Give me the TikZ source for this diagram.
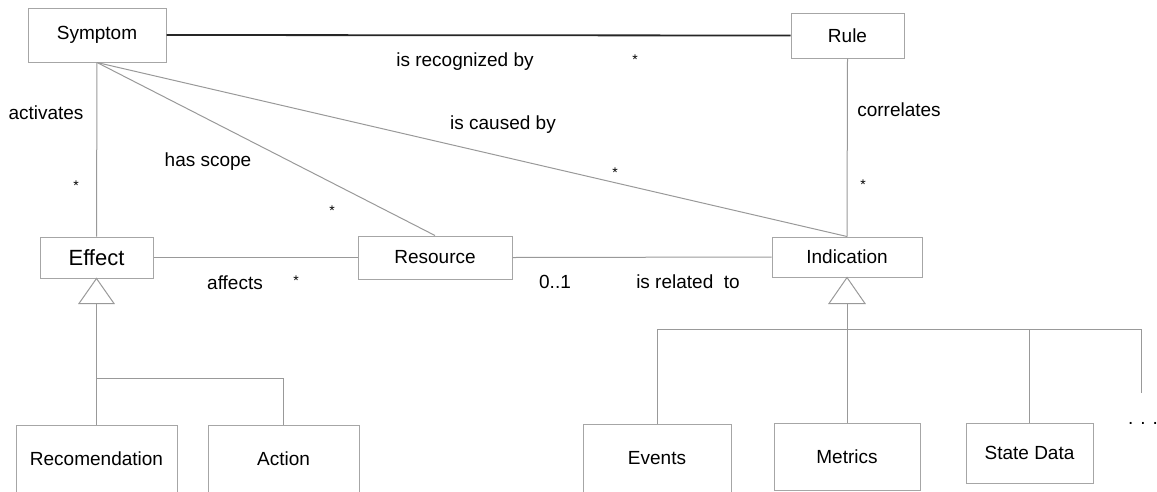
\documentclass[tikz,border=0pt]{standalone}
\usepackage{fontspec}
\setmainfont{Liberation Sans}
\usetikzlibrary{calc}

\begin{document}
\begin{tikzpicture}[x=1pt, y=-1pt,
  box/.style={draw=black!35, line width=1pt, inner sep=0pt, font=\fontsize{19}{23}\selectfont},
  link/.style={draw=black!40, line width=1pt},
  lbl/.style={inner sep=0pt, font=\fontsize{19}{23}\selectfont},
  mult/.style={inner sep=0pt, font=\fontsize{14}{16}\selectfont}]
  \useasboundingbox (0,0) rectangle (1157,491);
  \clip (0,0) rectangle (1157,491);

  % Draw the classes
  \node[box, minimum width=138pt, minimum height=54pt] (symptom) at (97,35) {Symptom};
  \node[box, minimum width=113pt, minimum height=45pt] (rule) at (847.5,35.5) {Rule};
  \node[box, minimum width=113pt, minimum height=41pt, font=\fontsize{22}{26}\selectfont] (effect) at (96.5,257.5) {Effect};
  \node[box, minimum width=154pt, minimum height=43pt] (resource) at (435,257.5) {Resource};
  \node[box, minimum width=150pt, minimum height=40pt] (indication) at (847,257) {Indication};

  % Draw the subclasses
  \node[box, minimum width=161pt, minimum height=68pt] (recom) at (96.5,459) {Recomendation};
  \node[box, minimum width=151pt, minimum height=68pt] (action) at (283.5,459) {Action};
  \node[box, minimum width=148pt, minimum height=68pt] (events) at (657,458) {Events};
  \node[box, minimum width=146pt, minimum height=67pt] (metrics) at (847,456.5) {Metrics};
  \node[box, minimum width=127pt, minimum height=60pt] (statedata) at (1029.5,453) {State Data};
  \node[lbl, anchor=base] (dots) at (1143,424) {. . .};

  % Draw the associations
  \draw[black!85, line width=1.8pt] (symptom.east) -- (rule.west);
  \draw[link] (symptom.south) -- (effect.north);
  \draw[link] (symptom.south) -- (resource.north);
  \draw[link] (symptom.south) -- (indication.north);
  \draw[link] (rule.south) -- (indication.north);
  \draw[link] (effect.east) -- (resource.west);
  \draw[link] (resource.east) -- (indication.west);

  % Draw the generalization of Effect
  \draw[link] (effect.south) -- ++(-17.5,25) -- ++(35,0) -- cycle;
  \coordinate (effbase) at ($(effect.south)+(0,25)$);
  \draw[link] (effbase) -- (recom.north);
  \coordinate (effjoin) at (96.5,378);
  \draw[link] (effjoin) -| (action.north);

  % Draw the generalization of Indication
  \draw[link] (indication.south) -- ++(-18,26) -- ++(36,0) -- cycle;
  \coordinate (indbase) at ($(indication.south)+(0,26)$);
  \draw[link] (indbase) -- (metrics.north);
  \coordinate (indjoin) at (847,329);
  \draw[link] (indjoin) -| (events.north);
  \draw[link] (indjoin) -| (statedata.north);
  \coordinate (more) at (1141,393);
  \draw[link] (indjoin) -| (more);

  % Association names
  \node[lbl] (recognized) at (465,62) {is recognized by};
  \node[lbl] (caused) at (503,125) {is caused by};
  \node[lbl] (activates) at (46,113) {activates};
  \node[lbl] (scope) at (208,162) {has scope};
  \node[lbl] (affects) at (235,283) {affects};
  \node[lbl] (related) at (688,282) {is related\ \ to};
  \node[lbl] (correlates) at (899,110) {correlates};

  % Multiplicities
  \node[mult] (m1) at (635,60) {*};
  \node[mult] (m2) at (615,173) {*};
  \node[mult] (m3) at (76,186) {*};
  \node[mult] (m4) at (332,211) {*};
  \node[mult] (m5) at (296,281) {*};
  \node[mult] (m6) at (863,185) {*};
  \node[lbl] (m7) at (555,282) {0..1};
\end{tikzpicture}
\end{document}
